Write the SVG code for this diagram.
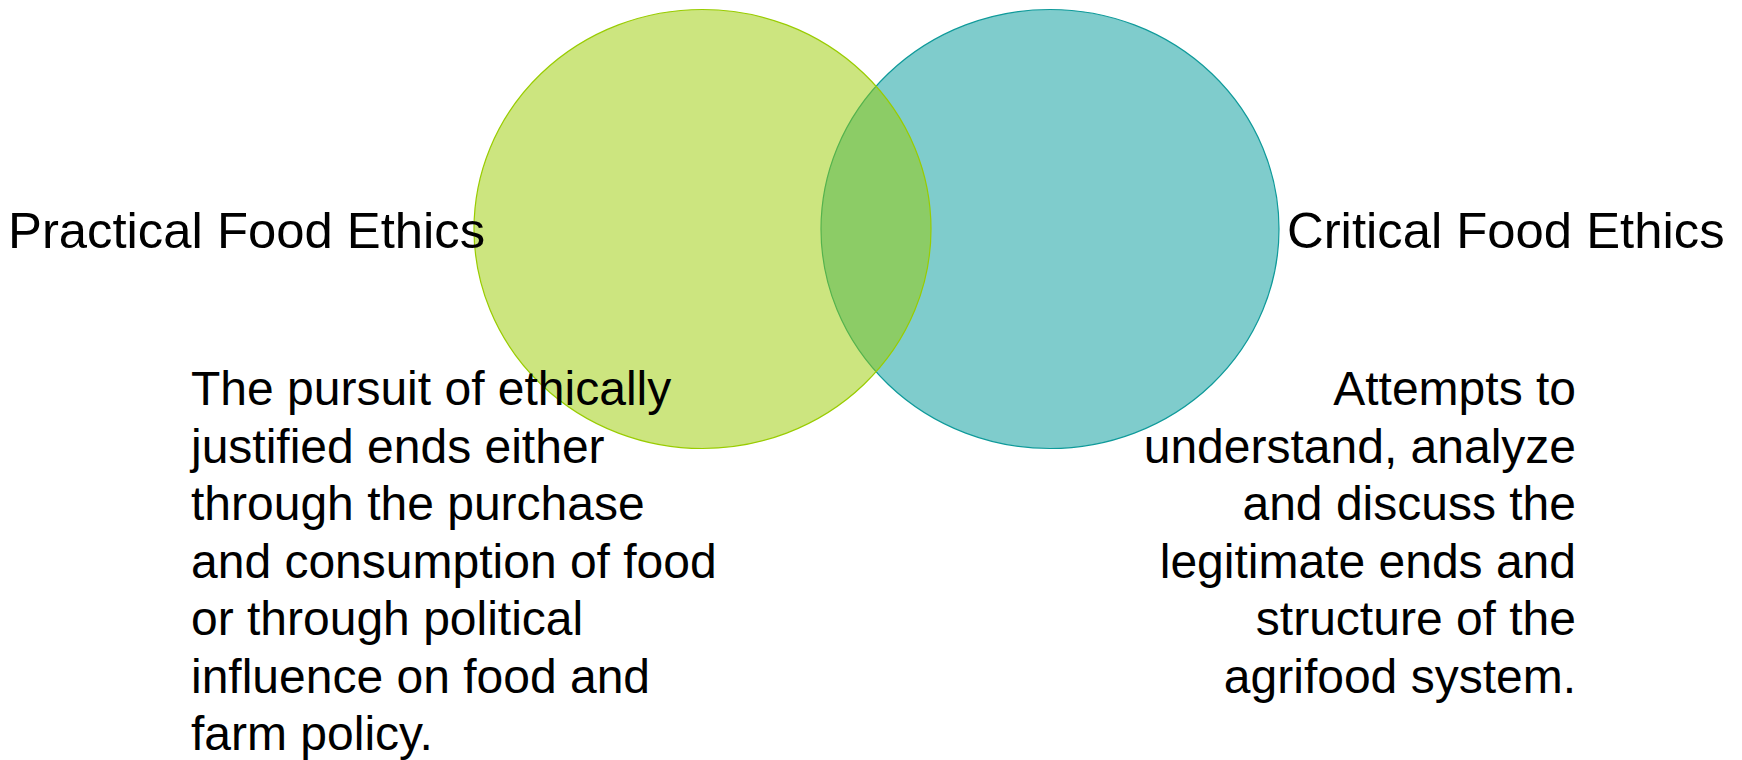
<svg xmlns="http://www.w3.org/2000/svg" width="1742" height="760" viewBox="0 0 1742 760">
<style>
  .title { font-family: "Liberation Sans", Arial, sans-serif; font-size: 50.8px; fill: #000; }
  .body { font-family: "Liberation Sans", Arial, sans-serif; font-size: 48px; fill: #000; }
</style>
<rect width="1742" height="760" fill="#ffffff"/>
<g id="critical-circle">
  <ellipse cx="1050" cy="229" rx="229" ry="219.5" fill="#009999" fill-opacity="0.5" stroke="#0F9A9A" stroke-width="1.2"/>
</g>
<g id="practical-circle">
  <ellipse cx="702.5" cy="229" rx="228.5" ry="219.5" fill="#99CC00" fill-opacity="0.5" stroke="#99CC00" stroke-width="1.2"/>
</g>
<g id="connectors"></g>
<g id="practical-label">
  <text class="title" x="8" y="248">Practical Food Ethics</text>
</g>
<g id="critical-label">
  <text class="title" x="1287" y="248">Critical Food Ethics</text>
</g>
<g id="practical-desc">
  <text class="body" x="191" y="405">The pursuit of ethically</text>
  <text class="body" x="191" y="462.5">justified ends either</text>
  <text class="body" x="191" y="520">through the purchase</text>
  <text class="body" x="191" y="577.5">and consumption of food</text>
  <text class="body" x="191" y="635">or through political</text>
  <text class="body" x="191" y="692.5">influence on food and</text>
  <text class="body" x="191" y="750">farm policy.</text>
</g>
<g id="critical-desc">
  <text class="body" x="1576" y="405" text-anchor="end">Attempts to</text>
  <text class="body" x="1576" y="462.5" text-anchor="end">understand, analyze</text>
  <text class="body" x="1576" y="520" text-anchor="end">and discuss the</text>
  <text class="body" x="1576" y="577.5" text-anchor="end">legitimate ends and</text>
  <text class="body" x="1576" y="635" text-anchor="end">structure of the</text>
  <text class="body" x="1576" y="692.5" text-anchor="end">agrifood system.</text>
</g>
</svg>
